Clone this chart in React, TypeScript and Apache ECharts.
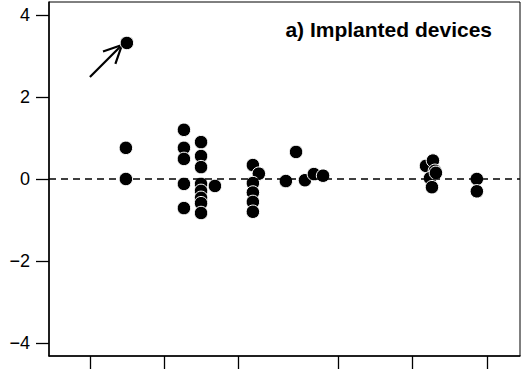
import React, { useEffect, useRef } from "react";
import * as echarts from "echarts";

// Point positions (x in axis units, ticks at 0,3,6,10,13,16) and residual values
const xValues = [
  1.45, 1.45, 1.49,
  3.79, 3.79, 3.79, 3.79, 3.79,
  4.48, 4.48, 4.48, 4.48, 4.48, 4.48, 4.48, 4.48,
  5.04,
  6.57, 6.81, 6.57, 6.57, 6.57, 6.57,
  7.9, 8.31, 8.67, 9.03, 9.4,
  13.55, 13.83, 13.91, 13.71, 13.79, 13.95,
  15.6, 15.6,
];
const yValues = [
  0.76, 0.0, 3.32,
  1.2, 0.76, 0.49, -0.12, -0.71,
  0.9, 0.56, 0.29, -0.12, -0.29, -0.46, -0.59, -0.83,
  -0.17,
  0.34, 0.13, -0.1, -0.33, -0.56, -0.8,
  -0.05, 0.66, -0.03, 0.12, 0.08,
  0.32, 0.45, 0.2, 0.02, -0.2, 0.15,
  0.0, -0.3,
];
const xTickValues = [0, 3, 6, 10, 13, 16];
const yTickValues = [-4, -2, 0, 2, 4];
const yTickLabels = ["\u22124", "\u22122", "0", "2", "4"];
const xRange = [-1.65, 17.34];
const yRange = [-4.32, 4.32];
const referenceLine = 0;
const arrowFrom = [0, 2.49];
const arrowTo = [1.29, 3.27];
const panelTitle = "a) Implanted devices";

export default function App() {
  const ref = useRef<HTMLDivElement>(null);
  useEffect(() => {
    const chart = echarts.init(ref.current!, null, { renderer: "svg" });
    const data = xValues.map((x, i) => [x, yValues[i]]);
    chart.setOption({
      animation: false,
      backgroundColor: "#fff",
      grid: {
        left: 49,
        top: 2,
        right: 3,
        bottom: 13,
        show: true,
        borderColor: "#000",
        borderWidth: 1,
        containLabel: false,
      },
      xAxis: {
        type: "value",
        min: xRange[0],
        max: xRange[1],
        axisLine: { show: true, onZero: false, lineStyle: { color: "#000", width: 1.5 } },
        axisTick: {
          show: true,
          length: 13,
          customValues: xTickValues,
          lineStyle: { color: "#000", width: 1.3 },
        },
        axisLabel: { show: false },
        splitLine: { show: false },
      },
      yAxis: {
        type: "value",
        min: yRange[0],
        max: yRange[1],
        axisLine: { show: true, onZero: false, lineStyle: { color: "#000", width: 1.5 } },
        axisTick: {
          show: true,
          length: 13,
          customValues: yTickValues,
          lineStyle: { color: "#000", width: 1.3 },
        },
        axisLabel: { show: false },
        splitLine: { show: false },
      },
      series: [
        {
          type: "line",
          data: [],
          z: 1,
          silent: true,
          markLine: {
            silent: true,
            symbol: "none",
            label: { show: false },
            lineStyle: { color: "#000", type: [7, 5], width: 1.5 },
            data: [{ yAxis: referenceLine }],
          },
        },
        {
          type: "scatter",
          z: 3,
          data,
          symbol: "circle",
          symbolSize: 13.5,
          itemStyle: { color: "#000", borderColor: "#fff", borderWidth: 1, opacity: 1 },
        },
      ],
    });

    const p0 = chart.convertToPixel({ gridIndex: 0 }, arrowFrom) as number[];
    const p1 = chart.convertToPixel({ gridIndex: 0 }, arrowTo) as number[];
    const ang = Math.atan2(p0[1] - p1[1], p0[0] - p1[0]);
    const L = 20;
    const spread = (26 * Math.PI) / 180;
    const a1 = [p1[0] + L * Math.cos(ang + spread), p1[1] + L * Math.sin(ang + spread)];
    const a2 = [p1[0] + L * Math.cos(ang - spread), p1[1] + L * Math.sin(ang - spread)];

    const tickLabelEls = yTickValues.map((v, i) => {
      const py = chart.convertToPixel({ yAxisIndex: 0 }, v) as number;
      return {
        type: "text",
        id: "ylab" + i,
        x: 30,
        y: py,
        style: {
          text: yTickLabels[i],
          fill: "#000",
          font: "18px 'Liberation Sans', Arial, sans-serif",
          textAlign: "right",
          textVerticalAlign: "middle",
        },
      };
    });

    chart.setOption({
      graphic: [
        ...tickLabelEls,
        {
          type: "text",
          id: "title",
          x: 492,
          y: 29,
          style: {
            text: panelTitle,
            fill: "#000",
            font: "bold 21px 'Liberation Sans', Arial, sans-serif",
            textAlign: "right",
            textVerticalAlign: "middle",
          },
        },
        {
          type: "line",
          id: "arrowShaft",
          shape: { x1: p0[0], y1: p0[1], x2: p1[0], y2: p1[1] },
          style: { stroke: "#000", lineWidth: 2.2 },
        },
        {
          type: "polyline",
          id: "arrowHead",
          shape: { points: [a1, p1, a2] },
          style: { stroke: "#000", lineWidth: 2.2, fill: "none" },
        },
      ],
    });
    return () => chart.dispose();
  }, []);
  return (
    <div
      ref={ref}
      style={{ position: "fixed", left: 0, top: 0, width: 523, height: 369 }}
    />
  );
}
